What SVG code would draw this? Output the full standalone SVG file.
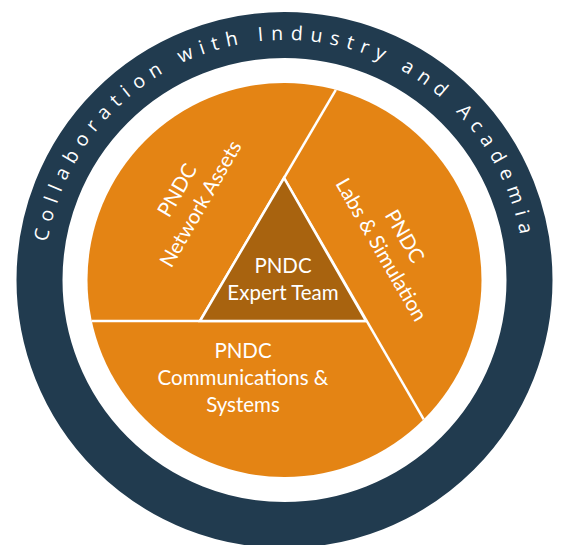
<svg xmlns="http://www.w3.org/2000/svg" width="563" height="545" viewBox="0 0 563 545">
  <style>
    .ring { fill: none; stroke: #213B4F; stroke-width: 46; }
    .disc { fill: #E48414; }
    .core { fill: #A8630F; stroke: #FFFFFF; stroke-width: 2.5; stroke-linejoin: miter; }
    .divider { stroke: #FFFFFF; stroke-width: 2.5; fill: none; }
    .label { font-family: Lato, "Open Sans", sans-serif; font-size: 20.5px; fill: #FFFFFF; text-anchor: middle; }
    .arc-label { font-family: "Open Sans", "DejaVu Sans", sans-serif; font-size: 19.5px; fill: #FFFFFF; letter-spacing: 7.4px; }
  </style>
  <defs>
    <path id="ringPath" d="M 44.5 280 A 240 240 0 0 1 524.5 280"/>
  </defs>
  <rect width="563" height="545" fill="#FFFFFF"/>

  <!-- outer collaboration ring -->
  <g id="collaboration-ring">
    <circle class="ring" cx="284.5" cy="280" r="245"/>
    <text class="arc-label"><textPath href="#ringPath" startOffset="50%" text-anchor="middle">Collaboration with Industry and Academia</textPath></text>
  </g>

  <!-- orange disc split into three sectors -->
  <g id="sectors">
    <circle class="disc" cx="284.5" cy="280" r="197"/>
  </g>

  <g id="connectors">
    <line class="divider" x1="200" y1="321" x2="335.8" y2="89.8"/>
    <line class="divider" x1="91.8" y1="321" x2="366" y2="321"/>
    <line class="divider" x1="284" y1="178" x2="423.7" y2="419.4"/>
  </g>

  <g id="network-assets">
    <g transform="translate(189 197) rotate(-60)">
      <text class="label" x="0" y="-6.5">PNDC</text>
      <text class="label" x="0" y="20.5">Network Assets</text>
    </g>
  </g>

  <g id="labs-simulation">
    <g transform="translate(393 243) rotate(60)">
      <text class="label" x="0" y="-6.5">PNDC</text>
      <text class="label" x="0" y="20.5">Labs &amp; Simulation</text>
    </g>
  </g>

  <g id="communications-systems">
    <text class="label" x="243" y="358">PNDC</text>
    <text class="label" x="243" y="385">Communications &amp;</text>
    <text class="label" x="243" y="412">Systems</text>
  </g>

  <g id="expert-team">
    <polygon class="core" points="284,178 366,321 200,321"/>
    <text class="label" x="283" y="273">PNDC</text>
    <text class="label" x="283" y="300">Expert Team</text>
  </g>
</svg>
